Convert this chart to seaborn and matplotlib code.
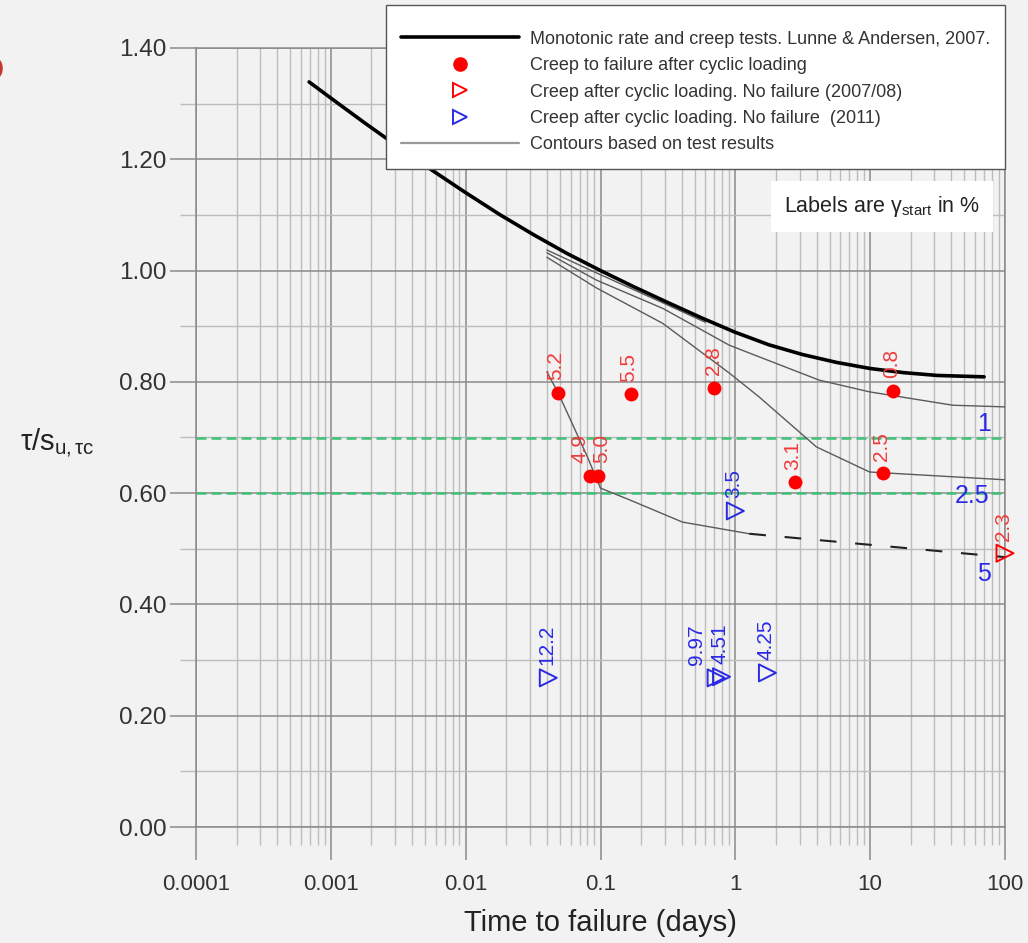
import matplotlib
matplotlib.use("Agg")
import matplotlib.pyplot as plt
import seaborn as sns
from matplotlib.lines import Line2D
from matplotlib.ticker import FixedLocator, LogLocator, MultipleLocator, NullFormatter

# --- Monotonic rate and creep tests (Lunne & Andersen, 2007) ---
mono_days = [0.00069, 0.001, 0.00178, 0.00316, 0.00562, 0.01, 0.0178, 0.0316, 0.0562,
             0.1, 0.178, 0.316, 0.562, 1.0, 1.78, 3.16, 5.62, 10, 17.8, 31.6, 70]
mono_ratio = [1.339, 1.310, 1.2655, 1.2225, 1.1805, 1.140, 1.101, 1.065, 1.031,
              1.000, 0.9705, 0.9425, 0.915, 0.889, 0.8665, 0.849, 0.835, 0.824,
              0.8165, 0.8115, 0.809]

# --- Contours based on test results ---
contour_top_days = [0.04, 0.093, 0.29, 0.6]
contour_top_ratio = [1.037, 0.996, 0.942, 0.907]

contour_1_days = [0.04, 0.093, 0.29, 0.9, 1.5, 4.2, 9.9, 41, 100]
contour_1_ratio = [1.032, 0.983, 0.932, 0.866, 0.845, 0.803, 0.782, 0.758, 0.755]

contour_25_days = [0.04, 0.093, 0.29, 0.9, 1.5, 4.0, 9.9, 100]
contour_25_ratio = [1.024, 0.969, 0.905, 0.816, 0.773, 0.683, 0.638, 0.624]

contour_5_days = [0.04, 0.0486, 0.08, 0.1, 0.164, 0.405, 1.27]
contour_5_ratio = [0.818, 0.780, 0.665, 0.609, 0.588, 0.548, 0.527]
contour_5_ext_days = [1.27, 100]
contour_5_ext_ratio = [0.527, 0.485]

contour_levels = ["1", "2.5", "5"]

# --- Creep to failure after cyclic loading ---
fail_days = [0.048, 0.167, 0.70, 14.7, 0.083, 0.096, 2.75, 12.4]
fail_ratio = [0.780, 0.778, 0.789, 0.784, 0.631, 0.631, 0.620, 0.636]
fail_gamma = ["5.2", "5.5", "2.8", "0.8", "4.9", "5.0", "3.1", "2.5"]

# --- Creep after cyclic loading, no failure (2007/08) ---
nofail_0708_days = [100]
nofail_0708_ratio = [0.492]
nofail_0708_gamma = ["2.3"]

# --- Creep after cyclic loading, no failure (2011) ---
nofail_2011_days = [1.0, 0.041, 0.72, 0.79, 1.73]
nofail_2011_ratio = [0.568, 0.268, 0.268, 0.270, 0.277]
nofail_2011_gamma = ["3.5", "12.2", "9.97", "4.51", "4.25"]

# reference stress levels
ref_levels = [0.70, 0.60]

xtick_values = [1e-4, 1e-3, 1e-2, 1e-1, 1, 10, 100]
xtick_labels = ["0.0001", "0.001", "0.01", "0.1", "1", "10", "100"]
ytick_values = [0.0, 0.2, 0.4, 0.6, 0.8, 1.0, 1.2, 1.4]

# ------------------------------------------------------------------
BG = "#f2f2f2"
RED = "#ff0000"
RED_TXT = "#f03a3a"
BLUE = "#2a2ae6"
GREEN = "#40c078"

sns.set_theme(style="ticks")
plt.rcParams["font.family"] = ["Liberation Sans", "DejaVu Sans"]
plt.rcParams["mathtext.fontset"] = "custom"
plt.rcParams["mathtext.rm"] = "Liberation Sans"
plt.rcParams["mathtext.it"] = "Liberation Sans:italic"
plt.rcParams["mathtext.bf"] = "Liberation Sans:bold"

fig = plt.figure(figsize=(10.28, 9.43), dpi=100, facecolor=BG)
ax = fig.add_axes([196 / 1028, 1 - 827 / 943, 809 / 1028, 779 / 943])
ax.set_facecolor(BG)
ax.set_xscale("log")
ax.set_xlim(1e-4, 100)
ax.set_ylim(0, 1.4)
ax.set_axisbelow(True)

# grid
ax.xaxis.set_major_locator(FixedLocator(xtick_values))
ax.xaxis.set_minor_locator(LogLocator(base=10, subs=range(2, 10), numticks=20))
ax.xaxis.set_minor_formatter(NullFormatter())
ax.set_xticklabels(xtick_labels)
ax.yaxis.set_major_locator(FixedLocator(ytick_values))
ax.yaxis.set_minor_locator(MultipleLocator(0.1))
ax.set_yticklabels([f"{v:.2f}" for v in ytick_values])
ax.grid(which="major", color="#8a8a8a", linewidth=1.1)
ax.grid(which="minor", color="#bdbdbd", linewidth=1.0)
for s in ax.spines.values():
    s.set_color("#8a8a8a")
    s.set_linewidth(1.1)

ax.tick_params(axis="x", which="major", length=24, width=1.1, color="#8a8a8a",
               pad=10, labelsize=16, labelcolor="#333333")
ax.tick_params(axis="x", which="minor", length=13, width=1.0, color="#bdbdbd")
ax.tick_params(axis="y", which="major", length=19, width=1.1, color="#8a8a8a",
               pad=2, labelsize=17.5, labelcolor="#333333")
ax.tick_params(axis="y", which="minor", length=11.5, width=1.0, color="#bdbdbd")

# reference levels
for lvl in ref_levels:
    ax.axhline(lvl, color=GREEN, lw=1.8, ls=(0, (4, 2)), zorder=2)

# contours
contour_kw = dict(color="#5a5a5a", lw=1.0, sort=False, estimator=None, ax=ax,
                  legend=False, zorder=3)
sns.lineplot(x=contour_top_days, y=contour_top_ratio, **contour_kw)
sns.lineplot(x=contour_1_days, y=contour_1_ratio, **contour_kw)
sns.lineplot(x=contour_25_days, y=contour_25_ratio, **contour_kw)
sns.lineplot(x=contour_5_days, y=contour_5_ratio, **contour_kw)
sns.lineplot(x=contour_5_ext_days, y=contour_5_ext_ratio, color="#222222", lw=1.5,
             dashes=False, sort=False, estimator=None, ax=ax, legend=False, zorder=3)
ax.lines[-1].set_linestyle((0, (8, 9)))

# contour level labels, placed at the right end of each contour
ends = [(contour_1_days[-1], contour_1_ratio[-1], (-15, -12)),
        (contour_25_days[-1], contour_25_ratio[-1], (-24, -12)),
        (contour_5_ext_days[-1], contour_5_ext_ratio[-1], (-15, -12))]
for lab, (xd, yd, off) in zip(contour_levels, ends):
    ax.annotate(lab, (xd, yd), xytext=off, textcoords="offset points",
                ha="center", va="center", color=BLUE, fontsize=18)

# monotonic curve
sns.lineplot(x=mono_days, y=mono_ratio, color="black", lw=2.6, sort=False,
             estimator=None, ax=ax, legend=False, zorder=4)

# test points
sns.scatterplot(x=fail_days, y=fail_ratio, marker="o", color=RED, s=100,
                linewidth=0, ax=ax, zorder=5, legend=False)
sns.scatterplot(x=nofail_0708_days, y=nofail_0708_ratio, marker=">", s=150,
                facecolor="none", edgecolor=RED, linewidth=1.4, ax=ax, zorder=5,
                legend=False, clip_on=False)
sns.scatterplot(x=nofail_2011_days, y=nofail_2011_ratio, marker=">", s=150,
                facecolor="none", edgecolor=BLUE, linewidth=1.4, ax=ax, zorder=5,
                legend=False)

# gamma_start labels
label_dx = {"4.9": -7, "5.0": 2.5, "9.97": -14}
def label_points(days, ratio, gammas, color):
    for xd, yd, g in zip(days, ratio, gammas):
        ax.annotate(g, (xd, yd), xytext=(label_dx.get(g, -1), 9),
                    textcoords="offset points", rotation=90, ha="center",
                    va="bottom", color=color, fontsize=15, annotation_clip=False,
                    zorder=6)

label_points(fail_days, fail_ratio, fail_gamma, RED_TXT)
label_points(nofail_0708_days, nofail_0708_ratio, nofail_0708_gamma, RED_TXT)
label_points(nofail_2011_days, nofail_2011_ratio, nofail_2011_gamma, BLUE)

# axis labels
ax.set_xlabel("Time to failure (days)", fontsize=21, color="#222222", labelpad=10)
ax.set_ylabel(r"$\mathrm{\tau/s}_{\mathrm{u,\tau c}}$", fontsize=21,
              rotation=0, color="#222222", ha="center", va="center")
ax.yaxis.set_label_coords(-0.172, 0.494)

# note box
ax.text(0.848, 0.796, r"Labels are $\mathrm{\gamma}_{\mathrm{start}}$ in %",
        transform=ax.transAxes, ha="center", va="center", fontsize=15.5,
        color="#222222", zorder=7,
        bbox=dict(boxstyle="square,pad=0.6", facecolor="white", edgecolor="none"))

# legend
handles = [
    Line2D([], [], color="black", lw=2.6),
    Line2D([], [], ls="none", marker="o", color=RED, markersize=9.5),
    Line2D([], [], ls="none", marker=">", markerfacecolor="none",
           markeredgecolor=RED, markeredgewidth=1.4, markersize=10),
    Line2D([], [], ls="none", marker=">", markerfacecolor="none",
           markeredgecolor=BLUE, markeredgewidth=1.4, markersize=10),
    Line2D([], [], color="#9a9a9a", lw=1.6),
]
labels = [
    "Monotonic rate and creep tests. Lunne & Andersen, 2007.",
    "Creep to failure after cyclic loading",
    "Creep after cyclic loading. No failure (2007/08)",
    "Creep after cyclic loading. No failure  (2011)",
    "Contours based on test results",
]
leg = ax.legend(handles, labels, loc="upper right", bbox_to_anchor=(1.0, 822 / 779),
                borderaxespad=0, fontsize=13, frameon=True, fancybox=False,
                framealpha=1, edgecolor="#555555", facecolor="white",
                handlelength=6.5, handletextpad=0.6, labelspacing=0.52,
                borderpad=0.85, title=" ", title_fontsize=1)
leg.get_frame().set_linewidth(1.0)
leg.set_zorder(10)
for t in leg.get_texts():
    t.set_color("#333333")

# clipped heading fragment at the left edge
fig.text(4 / 1028, 1 - 69 / 943, "o", ha="right", va="center", fontsize=30,
         fontweight="bold", color="#c8352d")

fig.savefig("out.png", dpi=100, facecolor=BG)
